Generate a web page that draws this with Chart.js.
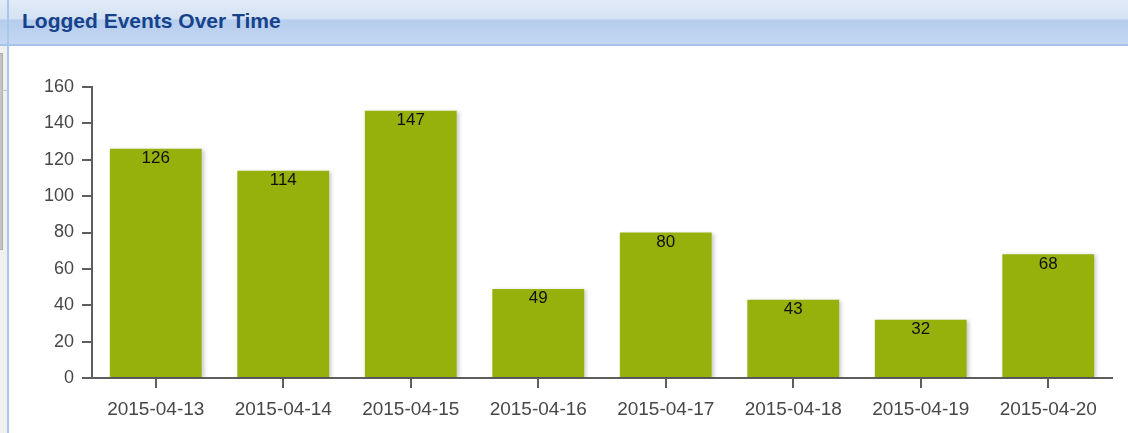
<!DOCTYPE html>
<html>
<head>
<meta charset="utf-8">
<script src="https://cdn.jsdelivr.net/npm/chart.js@4.4.1/dist/chart.umd.min.js"></script>
<style>
  html, body { margin: 0; padding: 0; background: #fff; }
  body { width: 1128px; height: 433px; position: relative; overflow: hidden; font-family: "Liberation Sans", Arial, sans-serif; }
  .side { position: absolute; left: 0; top: 46px; width: 7px; height: 387px; background: #f0f0f0; }
  .side .bar { position: absolute; left: 0; top: 7px; width: 2px; height: 195px; background: #c4c4c4; border: 1px solid #b0b0b0; border-left: none; }
  .side .line { position: absolute; left: 0; top: 44px; width: 7px; height: 1px; background: #c8c8c8; }
  .vline { position: absolute; left: 7px; top: 0; width: 2px; height: 433px; background: #a9c6ec; }
  .header { position: absolute; left: 0; top: 0; width: 1128px; height: 44px;
    background: linear-gradient(#e2ebf7 0px, #d4e2f4 19px, #b6cded 20px, #c3d7f2 44px);
    border-bottom: 2px solid #a6c3ea; }
  .header .title { position: absolute; left: 22px; top: 9px; font-weight: bold; font-size: 21px; color: #15428b; white-space: nowrap; }
  .chart-box { position: absolute; left: 10px; top: 47px; width: 1118px; height: 386px; }
</style>
</head>
<body>
<div class="header"><div class="title">Logged Events Over Time</div></div>
<div class="side"><div class="bar"></div><div class="line"></div></div>
<div class="vline"></div>
<div class="chart-box"><canvas id="eventsChart"></canvas></div>
<script>
// Logged events per day
const days = ['2015-04-13', '2015-04-14', '2015-04-15', '2015-04-16', '2015-04-17', '2015-04-18', '2015-04-19', '2015-04-20'];
const eventCounts = [126, 114, 147, 49, 80, 43, 32, 68];
const yTicks = [0, 20, 40, 60, 80, 100, 120, 140, 160];

const axisColor = '#5e5e5e';
const labelColor = '#474747';

// soft shadow under the bars
const barShadow = {
  id: 'barShadow',
  beforeDatasetsDraw(chart) {
    const ctx = chart.ctx;
    ctx.save();
    ctx.shadowColor = 'rgba(0,0,0,0.22)';
    ctx.shadowBlur = 4;
    ctx.shadowOffsetX = 2;
    ctx.shadowOffsetY = 1;
  },
  afterDatasetsDraw(chart) {
    chart.ctx.restore();
  }
};

// value written just inside the top of each bar
const valueLabels = {
  id: 'valueLabels',
  afterDatasetsDraw(chart) {
    const ctx = chart.ctx;
    const meta = chart.getDatasetMeta(0);
    ctx.save();
    ctx.font = '17px "Liberation Sans", Arial, sans-serif';
    ctx.fillStyle = '#111';
    ctx.textAlign = 'center';
    ctx.textBaseline = 'top';
    meta.data.forEach((bar, i) => {
      ctx.fillText(String(eventCounts[i]), bar.x, bar.y + 1);
    });
    ctx.restore();
  }
};

new Chart(document.getElementById('eventsChart').getContext('2d'), {
  type: 'bar',
  data: {
    labels: days,
    datasets: [{
      data: eventCounts,
      backgroundColor: '#96b00c',
      borderWidth: 0,
      categoryPercentage: 0.72,
      barPercentage: 1
    }]
  },
  options: {
    responsive: true,
    maintainAspectRatio: false,
    animation: false,
    layout: { padding: { top: 40, right: 16, left: 0, bottom: 0 } },
    plugins: {
      legend: { display: false },
      tooltip: { enabled: false }
    },
    scales: {
      x: {
        afterFit: s => { s.height = 55; },
        grid: { display: true, drawOnChartArea: false, drawTicks: true, tickLength: 10, offset: false, color: axisColor, lineWidth: 2 },
        border: { display: true, color: axisColor, width: 2 },
        ticks: { color: labelColor, font: { size: 19, family: '"Liberation Sans", Arial, sans-serif' }, padding: 10, maxRotation: 0, autoSkip: false }
      },
      y: {
        min: 0,
        max: 160,
        afterFit: s => { s.width = 82; },
        afterBuildTicks: s => { s.ticks = yTicks.map(v => ({ value: v })); },
        grid: { display: true, drawOnChartArea: false, drawTicks: true, tickLength: 10, color: axisColor, lineWidth: 2 },
        border: { display: true, color: axisColor, width: 2 },
        ticks: { color: labelColor, font: { size: 18, family: '"Liberation Sans", Arial, sans-serif' }, padding: 8 }
      }
    }
  },
  plugins: [barShadow, valueLabels]
});
</script>
</body>
</html>
